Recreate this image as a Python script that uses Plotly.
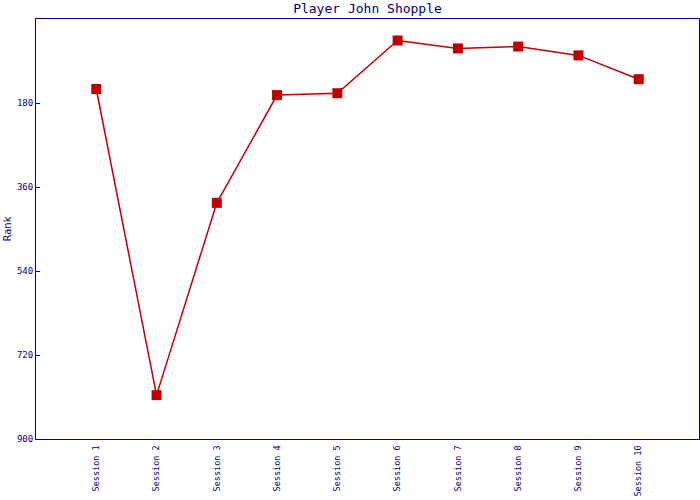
import plotly.graph_objects as go

sessions = ["Session 1", "Session 2", "Session 3", "Session 4", "Session 5",
            "Session 6", "Session 7", "Session 8", "Session 9", "Session 10"]
ranks = [150, 806, 394, 163, 159, 46, 63, 59, 78, 129]
y_ticks = [180, 360, 540, 720, 900]

navy = "#000080"
red = "#C00000"
font = "DejaVu Sans Mono"

fig = go.Figure()
fig.add_trace(go.Scatter(
    x=sessions, y=ranks, mode="lines+markers",
    line=dict(color=red, width=1.5),
    marker=dict(symbol="square", size=10, color=red),
    showlegend=False,
))

fig.update_layout(
    width=700, height=500, autosize=False,
    paper_bgcolor="white", plot_bgcolor="white",
    margin=dict(l=36, r=1, t=19, b=61, autoexpand=False),
    title=dict(text="Player John Shopple", x=0.525, xanchor="center",
               y=0.984, yanchor="middle",
               font=dict(family=font, size=13, color=navy)),
    font=dict(family=font, color=navy),
)
fig.update_xaxes(
    type="category", range=[-1, 10], showgrid=False, zeroline=False,
    showline=True, linecolor=navy, linewidth=1, mirror=True,
    tickangle=-90, tickfont=dict(family=font, size=8.5, color=navy),
    ticks="", ticklen=0, automargin=False, ticklabelstandoff=2,
)
fig.update_yaxes(
    range=[900, 0], tickvals=y_ticks, showgrid=False, zeroline=False,
    showline=True, linecolor=navy, linewidth=1, mirror=True,
    ticks="inside", ticklen=4, tickcolor=navy, automargin=False,
    tickfont=dict(family=font, size=9, color=navy),
    title=dict(text="Rank", font=dict(family="DejaVu Sans", size=10, color=navy), standoff=3),
)

fig.write_html("out.html", config={"displayModeBar": False},
               post_script="document.body.style.margin='0';document.body.style.padding='0';")
